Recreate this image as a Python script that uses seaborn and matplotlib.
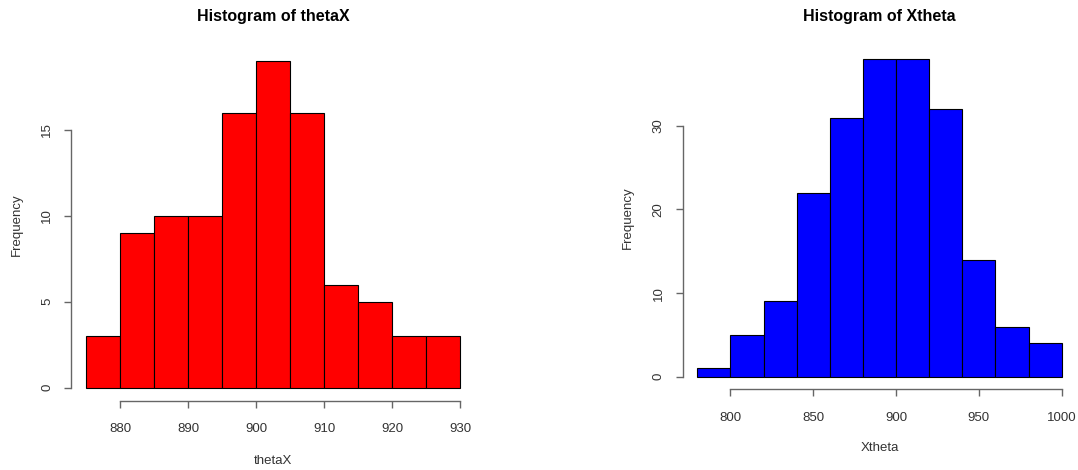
import matplotlib
matplotlib.use("Agg")
import matplotlib.pyplot as plt
import seaborn as sns
import numpy as np

# ---- data ----
theta_edges = [875, 880, 885, 890, 895, 900, 905, 910, 915, 920, 925, 930]
theta_counts = [3, 9, 10, 10, 16, 19, 16, 6, 5, 3, 3]
theta_xticks = [880, 890, 900, 910, 920, 930]
theta_yticks = [0, 5, 10, 15]

xt_edges = [780, 800, 820, 840, 860, 880, 900, 920, 940, 960, 980, 1000]
xt_counts = [1, 5, 9, 22, 31, 38, 38, 32, 14, 6, 4]
xt_xticks = [800, 850, 900, 950, 1000]
xt_yticks = [0, 10, 20, 30]

sns.set_style("white")
plt.rcParams['font.family'] = ['Liberation Sans', 'DejaVu Sans']

W, H = 1078, 470
fig = plt.figure(figsize=(W / 100, H / 100), dpi=100)


def px_axes(l, r, t, b):
    return fig.add_axes([l / W, 1 - b / H, (r - l) / W, (b - t) / H])


TXT = "#333333"
AX = "#666666"


def r_hist(ax, edges, counts, color, xticks, yticks, title, xlabel,
           xpad, ypad, xlab_y, ylab_x, title_y):
    centers = [(a + b) / 2 for a, b in zip(edges[:-1], edges[1:])]
    sns.histplot(x=centers, weights=counts, bins=edges, ax=ax,
                 color=color, alpha=1.0, edgecolor="black", linewidth=0.8)
    rng = edges[-1] - edges[0]
    ax.set_xlim(edges[0] - 0.04 * rng, edges[-1] + 0.04 * rng)
    ymax = max(counts)
    ax.set_ylim(-0.04 * ymax, ymax * 1.04)
    for s in ["top", "right"]:
        ax.spines[s].set_visible(False)
    ax.spines["left"].set_bounds(yticks[0], yticks[-1])
    ax.spines["bottom"].set_bounds(xticks[0], xticks[-1])
    for s in ["left", "bottom"]:
        ax.spines[s].set_color(AX)
        ax.spines[s].set_linewidth(1.0)
    ax.set_xticks(xticks)
    ax.set_yticks(yticks)
    ax.tick_params(axis="both", direction="out", length=5, width=1.0,
                   color=AX, labelcolor=TXT, labelsize=9.5)
    ax.tick_params(axis="x", pad=xpad, bottom=True)
    ax.tick_params(axis="y", pad=ypad, labelrotation=90, left=True)
    for lab in ax.get_yticklabels():
        lab.set_verticalalignment("center")
    ax.set_title(title, fontsize=11.5, fontweight="bold", color="black",
                 y=title_y, va="center", pad=0)
    ax.set_xlabel(xlabel, fontsize=9.5, color=TXT)
    ax.set_ylabel("Frequency", fontsize=9.5, color=TXT)
    ax.xaxis.label.set_verticalalignment("center")
    ax.yaxis.label.set_verticalalignment("center")
    ax.xaxis.set_label_coords(0.5, xlab_y)
    ax.yaxis.set_label_coords(ylab_x, 0.5)
    ax.grid(False)


# left panel (pixel box from reference)
l1, r1, t1, b1 = 71.3, 475.3, 48, 400.8
ax1 = px_axes(l1, r1, t1, b1)
r_hist(ax1, theta_edges, theta_counts, "#ff0000", theta_xticks, theta_yticks,
       "Histogram of thetaX", "thetaX", xpad=11, ypad=8,
       xlab_y=(b1 - 461) / (b1 - t1), ylab_x=(17 - l1) / (r1 - l1),
       title_y=(b1 - 17) / (b1 - t1))

# right panel
l2, r2, t2, b2 = 682.7, 1076.3, 46.3, 389.4
ax2 = px_axes(l2, r2, t2, b2)
r_hist(ax2, xt_edges, xt_counts, "#0000ff", xt_xticks, xt_yticks,
       "Histogram of Xtheta", "Xtheta", xpad=11, ypad=8,
       xlab_y=(b2 - 448) / (b2 - t2), ylab_x=(628 - l2) / (r2 - l2),
       title_y=(b2 - 17) / (b2 - t2))

fig.savefig("out.png", dpi=100, facecolor="white")
